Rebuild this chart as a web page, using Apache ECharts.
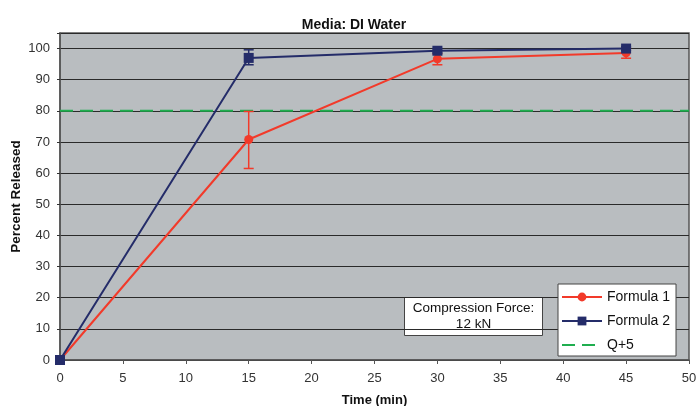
<!DOCTYPE html>
<html>
<head>
<meta charset="utf-8">
<script src="https://cdn.jsdelivr.net/npm/echarts@6/dist/echarts.min.js"></script>
<style>
  html, body { margin: 0; padding: 0; background: #fff; }
  #chart { width: 697px; height: 406px; }
</style>
</head>
<body>
<div id="chart"></div>
<script>
// time points (min)
var times = [0, 15, 30, 45];
// percent released
var formula1 = [0, 70.8, 96.7, 98.6];
var formula2 = [0, 97.0, 99.3, 100.0];
// error bar ranges [low, high]
var formula1Err = [[0, 0], [61.5, 79.8], [94.8, 98.3], [96.9, 100.2]];
var formula2Err = [[0, 0], [94.8, 99.6], [98.6, 100.0], [99.4, 100.6]];
var qLine = 80;
var xTicks = [0, 5, 10, 15, 20, 25, 30, 35, 40, 45, 50];
var yTicks = [0, 10, 20, 30, 40, 50, 60, 70, 80, 90, 100];

var RED = '#f23a2a';
var NAVY = '#242c69';
var GREEN = '#1fae4f';

function pairs(ys) {
    return times.map(function (t, i) { return [t, ys[i]]; });
}
function errData(errs) {
    return times.map(function (t, i) { return [t, errs[i][0], errs[i][1]]; });
}
function errRender(color) {
    return function (params, api) {
        var x = api.value(0);
        var lo = api.coord([x, api.value(1)]);
        var hi = api.coord([x, api.value(2)]);
        var w = 5;
        var style = { stroke: color, lineWidth: 1.5 };
        return {
            type: 'group',
            children: [
                { type: 'line', shape: { x1: lo[0], y1: lo[1], x2: hi[0], y2: hi[1] }, style: style },
                { type: 'line', shape: { x1: lo[0] - w, y1: lo[1], x2: lo[0] + w, y2: lo[1] }, style: style },
                { type: 'line', shape: { x1: hi[0] - w, y1: hi[1], x2: hi[0] + w, y2: hi[1] }, style: style }
            ]
        };
    };
}

var chart = echarts.init(document.getElementById('chart'));
var font = 'Liberation Sans, Arial, sans-serif';

var option = {
    animation: false,
    textStyle: { fontFamily: font },
    title: {
        text: 'Media: DI Water',
        left: 349,
        textAlign: 'center',
        top: 13,
        textStyle: { fontSize: 14, fontWeight: 'bold', color: '#111', fontFamily: font }
    },
    grid: {
        left: 60, right: 8, top: 33, bottom: 46,
        outerBoundsMode: 'none',
        containLabel: false,
        show: true,
        backgroundColor: '#b9bdc0',
        borderColor: '#555',
        borderWidth: 1.5
    },
    xAxis: {
        type: 'value',
        min: 0, max: 50, interval: 5,
        name: 'Time (min)',
        nameLocation: 'middle',
        nameGap: 34,
        nameMoveOverlap: false,
        nameTextStyle: { fontSize: 13, fontWeight: 'bold', color: '#111', fontFamily: font },
        axisLine: { show: true, lineStyle: { color: '#555', width: 1.5 } },
        axisTick: { show: true, length: 4, lineStyle: { color: '#555' } },
        axisLabel: {
            fontSize: 13, color: '#333', margin: 12,
            formatter: function (v) { return xTicks.indexOf(v) >= 0 ? String(v) : ''; }
        },
        splitLine: { show: false }
    },
    yAxis: {
        type: 'value',
        min: 0, max: 105, interval: 10,
        name: 'Percent Released',
        nameLocation: 'middle',
        nameGap: 37,
        nameMoveOverlap: false,
        nameTextStyle: { fontSize: 13.5, fontWeight: 'bold', color: '#111', fontFamily: font },
        axisLine: { show: true, lineStyle: { color: '#555', width: 1.5 } },
        axisTick: { show: true, length: 3, lineStyle: { color: '#333' } },
        axisLabel: {
            fontSize: 13, color: '#333', margin: 10,
            formatter: function (v) { return yTicks.indexOf(v) >= 0 ? String(v) : ''; }
        },
        splitLine: { show: true, lineStyle: { color: '#2a2a2a', width: 1.2 } }
    },
    legend: {
        orient: 'vertical',
        left: 558, top: 284,
        width: 119,
        backgroundColor: '#fff',
        borderColor: '#444',
        borderWidth: 1,
        padding: [6, 6, 4, 3],
        itemGap: 10,
        itemWidth: 40,
        itemHeight: 11,
        textStyle: { fontSize: 14, color: '#111', fontFamily: font },
        data: ['Formula 1', 'Formula 2', { name: 'Q+5', itemStyle: { opacity: 0 } }]
    },
    graphic: [{
        type: 'group',
        left: 404, top: 297,
        children: [
            { type: 'rect', shape: { x: 0, y: 0, width: 138, height: 38 },
              style: { fill: '#fff', stroke: '#444', lineWidth: 1 } },
            { type: 'text', x: 69, y: 19,
              style: { text: 'Compression Force:\n12 kN', fontSize: 13.5, fill: '#111',
                       fontFamily: font, align: 'center', verticalAlign: 'middle', lineHeight: 16 } }
        ]
    }],
    series: [
        {
            name: 'Q+5',
            type: 'line',
            data: [[0, qLine], [50, qLine]],
            symbol: 'none',
            lineStyle: { color: GREEN, width: 2, type: [13, 7] },
            itemStyle: { color: GREEN },
            z: 2
        },
        {
            name: 'Formula 1 err',
            type: 'custom',
            data: errData(formula1Err),
            renderItem: errRender(RED),
            z: 3
        },
        {
            name: 'Formula 2 err',
            type: 'custom',
            data: errData(formula2Err),
            renderItem: errRender(NAVY),
            z: 3
        },
        {
            name: 'Formula 1',
            type: 'line',
            data: pairs(formula1),
            symbol: 'circle',
            symbolSize: 9,
            lineStyle: { color: RED, width: 2 },
            itemStyle: { color: RED },
            z: 4
        },
        {
            name: 'Formula 2',
            type: 'line',
            data: pairs(formula2),
            symbol: 'rect',
            symbolSize: 10,
            lineStyle: { color: NAVY, width: 2 },
            itemStyle: { color: NAVY },
            z: 5
        }
    ]
};

chart.setOption(option);
</script>
</body>
</html>
